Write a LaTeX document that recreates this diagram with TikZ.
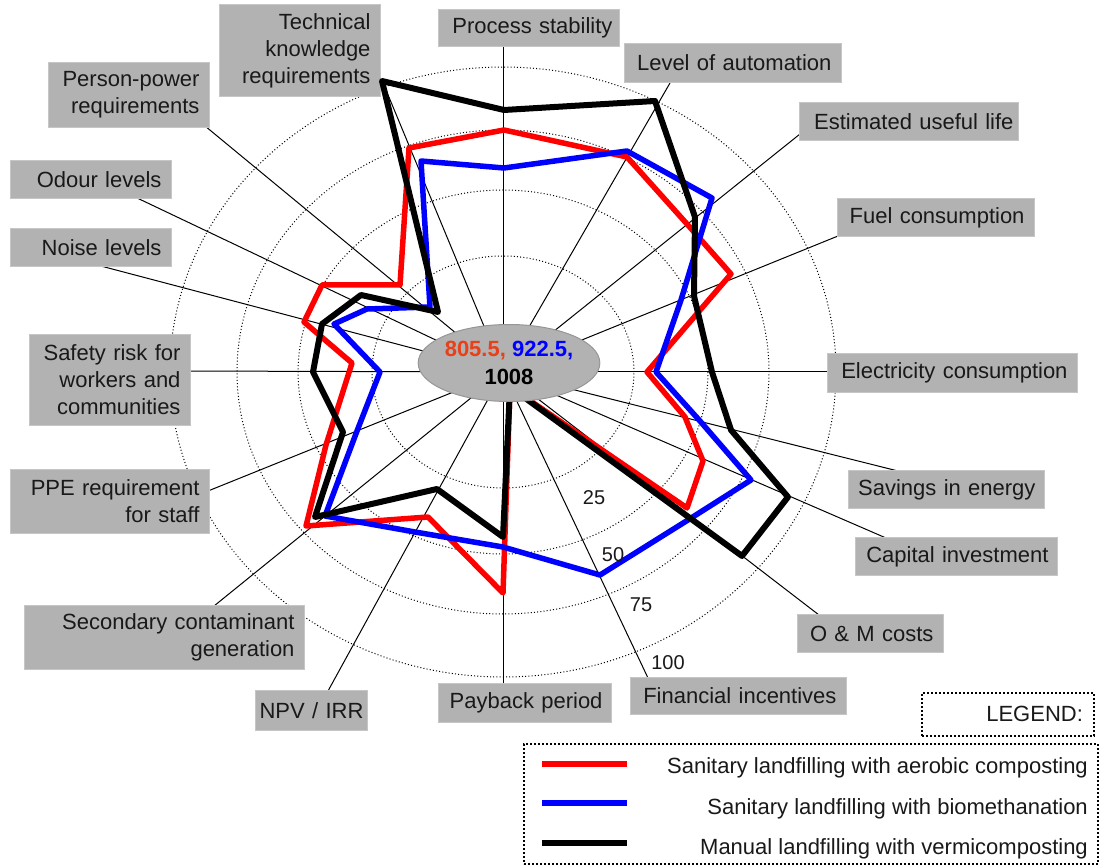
\documentclass[tikz,border=0pt]{standalone}
\usepackage{fontspec}
\setmainfont{Liberation Sans}
\usetikzlibrary{shapes.geometric}

\definecolor{boxgray}{RGB}{178,178,178}
\definecolor{boxedge}{RGB}{198,198,198}
\definecolor{ellipseedge}{RGB}{150,150,150}
\definecolor{serA}{RGB}{255,0,0}
\definecolor{serB}{RGB}{0,0,255}
\definecolor{serC}{RGB}{0,0,0}
\definecolor{numorange}{RGB}{232,64,24}
\definecolor{txt}{RGB}{25,25,25}

\begin{document}
\begin{tikzpicture}[x=1pt,y=-1pt,
  every node/.style={font=\fontsize{22}{27}\selectfont, text=txt},
  lbl/.style={fill=boxgray, draw=boxedge, line width=1pt, anchor=north west,
              align=right, inner xsep=10pt, inner ysep=0pt},
  ring/.style={line width=1pt, dash pattern=on 1pt off 2.2pt},
  spoke/.style={line width=1pt},
  series/.style={line width=5.5pt, line join=round},
  frame/.style={line width=1.8pt, dash pattern=on 1.8pt off 2.2pt},
  tick/.style={font=\fontsize{20}{24}\selectfont}
]
\useasboundingbox (0,0) rectangle (1101,866);
\fill[white] (0,0) rectangle (1101,866);

% centre of the radar
\coordinate (O) at (503,372);

% grid rings (25, 50, 75, 100)
\draw[ring] (O) ellipse [x radius=131pt, y radius=116pt];
\draw[ring] (O) ellipse [x radius=205pt, y radius=182pt];
\draw[ring] (O) ellipse [x radius=266pt, y radius=242pt];
\draw[ring] (O) ellipse [x radius=333pt, y radius=305pt];

% outer ends of the spokes, at the label boxes
\coordinate (e-proc) at (503,47);
\coordinate (e-auto) at (670,83);
\coordinate (e-life) at (800,134);
\coordinate (e-fuel) at (838,236);
\coordinate (e-elec) at (828,372);
\coordinate (e-save) at (898,471);
\coordinate (e-capi) at (886,538);
\coordinate (e-omc)  at (819,615);
\coordinate (e-fina) at (648,678);
\coordinate (e-payb) at (503,684);
\coordinate (e-npv)  at (328,691);
\coordinate (e-seco) at (214,606);
\coordinate (e-ppe)  at (208,491);
\coordinate (e-safe) at (189,371);
\coordinate (e-nois) at (97,265);
\coordinate (e-odou) at (135,197);
\coordinate (e-pers) at (205,126);
\coordinate (e-tech) at (386,90);

\foreach \e in {proc,auto,life,fuel,elec,save,capi,omc,fina,payb,npv,seco,ppe,safe,nois,odou,pers,tech}
  \draw[spoke] (O) -- (e-\e);

% criterion labels
\node[lbl, text width=141pt, minimum height=92pt] (tech) at (219,4) {Technical\\knowledge\\requirements};
\node[lbl, text width=141pt, minimum height=65pt] (pers) at (48,62) {Person-power\\requirements};
\node[lbl, text width=141pt, minimum height=38pt] (odou) at (10,160) {Odour levels};
\node[lbl, text width=141pt, minimum height=38pt] (nois) at (10,228) {Noise levels};
\node[lbl, text width=141pt, minimum height=91pt] (safe) at (29,334) {Safety risk for\\workers and\\communities};
\node[lbl, text width=179pt, minimum height=64pt] (ppe) at (10,469) {PPE requirement\\for staff};
\node[lbl, text width=260pt, minimum height=64pt] (seco) at (24,605) {Secondary contaminant\\generation};
\node[lbl, inner xsep=4pt, text width=104pt, minimum height=40pt] (npv) at (255,690) {NPV / IRR};
\node[lbl, inner xsep=9pt, text width=155pt, minimum height=39pt] (payb) at (438,683) {Payback period};
\node[lbl, text width=196pt, minimum height=37pt] (fina) at (630,677) {Financial incentives};
\node[lbl, text width=126pt, minimum height=38pt] (omc) at (797,614) {O \& M costs};
\node[lbl, inner xsep=9pt, text width=184pt, minimum height=38pt] (capi) at (855,537) {Capital investment};
\node[lbl, inner xsep=9pt, text width=178pt, minimum height=38pt] (save) at (848,470) {Savings in energy};
\node[lbl, text width=230pt, minimum height=39pt] (elec) at (827,353) {Electricity consumption};
\node[lbl, text width=177pt, minimum height=38pt] (fuel) at (837,198) {Fuel consumption};
\node[lbl, inner xsep=5pt, text width=209pt, minimum height=38pt] (life) at (799,102) {Estimated useful life};
\node[lbl, text width=197pt, minimum height=39pt] (auto) at (624,43) {Level of automation};
\node[lbl, inner xsep=7pt, text width=167pt, minimum height=37pt] (proc) at (438,9) {Process stability};

% data series
\draw[series, serA] (504,130) -- (627,157) -- (687,224) -- (731,274) -- (647,372)
  -- (685,417) -- (703,461) -- (687,508) -- (510,387) -- (503,593) -- (428,517)
  -- (306,526) -- (326,445) -- (352,363) -- (304,322) -- (322,285) -- (400,285)
  -- (409,148) -- cycle;
\draw[series, serB] (504,168) -- (627,151) -- (712,198) -- (681,300) -- (656,372)
  -- (700,421) -- (751,480) -- (688,520) -- (600,575) -- (503,547) -- (415,532)
  -- (325,516) -- (357,431) -- (380,372) -- (334,324) -- (367,309) -- (430,307)
  -- (421,161) -- cycle;
\draw[series, serC, line width=6pt] (504,110) -- (655,101) -- (695,217) -- (694,296) -- (712,372)
  -- (731,430) -- (788,497) -- (742,556) -- (510,387) -- (503,537) -- (437,489)
  -- (315,517) -- (343,432) -- (313,372) -- (322,324) -- (361,295) -- (438,312)
  -- (382,81) -- cycle;

% totals in the centre
\node[ellipse, fill=boxgray, draw=ellipseedge, line width=1pt, minimum width=180pt,
      minimum height=77pt, inner sep=0pt, align=center,
      font=\bfseries\fontsize{22}{28}\selectfont] (total) at (509,363)
  {\textcolor{numorange}{805.5,} \textcolor{serB}{922.5,}\\\textcolor{black}{1008}};

% scale values
\node[tick] (t25)  at (594,498) {25};
\node[tick] (t50)  at (613,555) {50};
\node[tick] (t75)  at (641,605) {75};
\node[tick] (t100) at (668,663) {100};

% legend
\node[frame, draw, anchor=north west, minimum width=172pt, minimum height=43pt,
      text width=150pt, align=right, inner xsep=11pt, inner ysep=0pt] (legtitle) at (921,692) {LEGEND:};
\node[frame, draw, anchor=north west, minimum width=574pt, minimum height=120pt,
      inner sep=0pt] (legend) at (523,743) {};
\coordinate (la1) at (542,764); \coordinate (lb1) at (627,764);
\coordinate (la2) at (542,803); \coordinate (lb2) at (627,803);
\coordinate (la3) at (542,843); \coordinate (lb3) at (627,843);
\draw[serA, line width=6pt] (la1) -- (lb1);
\draw[serB, line width=6pt] (la2) -- (lb2);
\draw[serC, line width=6pt] (la3) -- (lb3);
\node[anchor=base east, inner sep=0pt] (leg1) at (1088,773) {Sanitary landfilling with aerobic composting};
\node[anchor=base east, inner sep=0pt] (leg2) at (1088,814) {Sanitary landfilling with biomethanation};
\node[anchor=base east, inner sep=0pt] (leg3) at (1088,854) {Manual landfilling with vermicomposting};
\end{tikzpicture}
\end{document}
